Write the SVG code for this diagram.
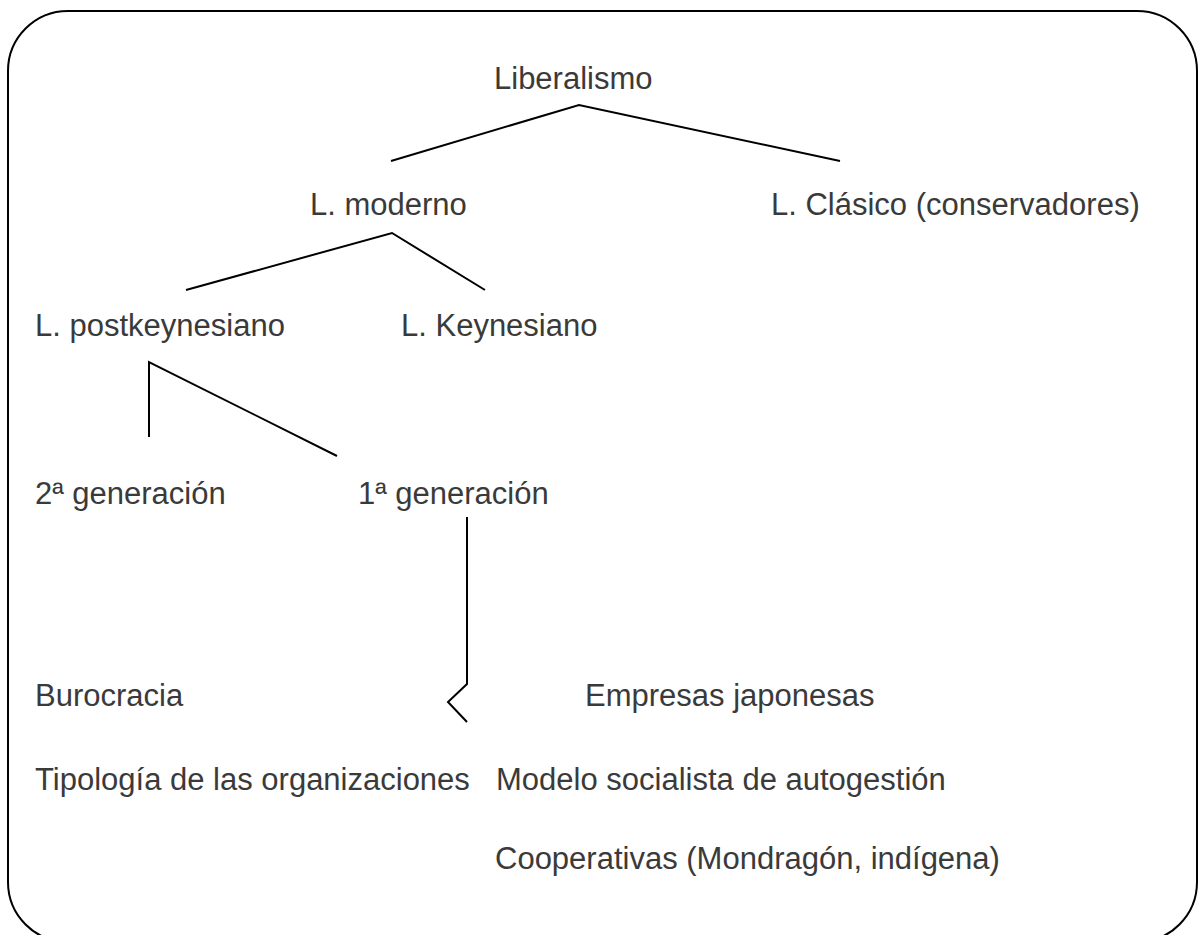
<svg xmlns="http://www.w3.org/2000/svg" width="1202" height="935" viewBox="0 0 1202 935">
<style>
.t{font-family:"Liberation Sans",Arial,sans-serif;font-size:31px;fill:#3a3a3a}
.c{fill:none;stroke:#000;stroke-width:2;stroke-linejoin:miter}
</style>
<rect x="0" y="0" width="1202" height="935" fill="#fff"/>
<rect id="frame" x="8" y="11" width="1189" height="931" rx="60" ry="60" fill="none" stroke="#000" stroke-width="2"/>
<g id="connectors">
<polyline class="c" points="391,161 579,105 840,161"/>
<polyline class="c" points="186,290 392,233 485,290"/>
<polyline class="c" points="149,437 149,362 337,456"/>
<polyline class="c" points="467,517 467,684 448,702 467,722"/>
</g>
<g id="n-liberalismo"><text class="t" x="494" y="89">Liberalismo</text></g>
<g id="n-moderno"><text class="t" x="310" y="215">L. moderno</text></g>
<g id="n-clasico"><text class="t" x="771" y="215">L. Clásico (conservadores)</text></g>
<g id="n-postkeynesiano"><text class="t" x="35" y="336">L. postkeynesiano</text></g>
<g id="n-keynesiano"><text class="t" x="401" y="336">L. Keynesiano</text></g>
<g id="n-gen2"><text class="t" x="35" y="504">2ª generación</text></g>
<g id="n-gen1"><text class="t" x="358" y="504">1ª generación</text></g>
<g id="n-burocracia"><text class="t" x="35" y="706">Burocracia</text></g>
<g id="n-empresas"><text class="t" x="585" y="706">Empresas japonesas</text></g>
<g id="n-tipologia"><text class="t" x="35" y="790">Tipología de las organizaciones</text></g>
<g id="n-modelo"><text class="t" x="496" y="790">Modelo socialista de autogestión</text></g>
<g id="n-cooperativas"><text class="t" x="495" y="869">Cooperativas (Mondragón, indígena)</text></g>
</svg>
